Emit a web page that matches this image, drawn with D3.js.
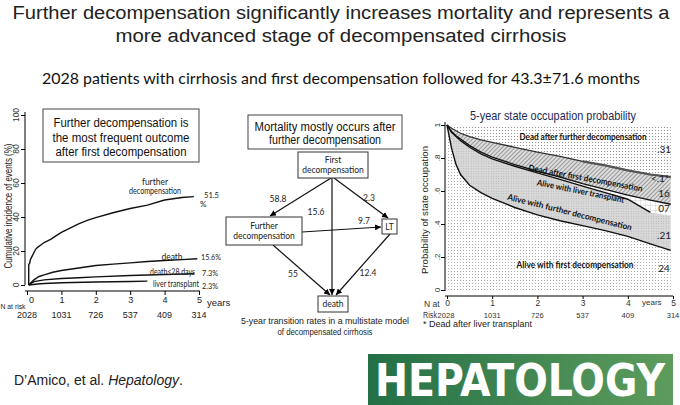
<!DOCTYPE html>
<html><head><meta charset="utf-8">
<script src="https://cdn.jsdelivr.net/npm/d3@7"></script>
<style>body{margin:0;background:#fff} svg{display:block}</style>
</head><body>
<svg id="c" width="680" height="405"></svg>
<script>
// ---------- DATA ----------
const titleLines = ["Further decompensation significantly increases mortality and represents a",
                    "more advanced stage of decompensated cirrhosis"];
const subtitle = "2028 patients with cirrhosis and first decompensation followed for 43.3\u00B171.6 months";
const years = [0,1,2,3,4,5];
const nAtRisk = ["2028","1031","726","537","409","314"];
const leftYTicks = [0,20,40,60,80,100];
const leftBox = ["Further decompensation is","the most frequent outcome","after first decompensation"];
// cumulative incidence curves (years, %)
const furtherT = [0.05,0.05,0.08,0.1,0.15,0.2,0.25,0.3,0.4,0.5,0.6,0.7,0.85,1.0,1.25,1.5,1.75,2.0,2.5,3.0,3.5,4.0,4.5,4.85];
const furtherV = [0,12,13,15,17,19,21,22,23.5,25,26,27,29,31,33.5,36,38,39.6,42.5,45,47,50,51.5,52];
const deathT = [0.05,0.2,0.35,0.5,0.75,1,1.5,2,2.5,3,3.5,4,4.5,4.95];
const deathV = [0,3,5,6,7.5,8.5,10,11.5,12.3,13,13.8,14.4,14.9,15.4];
const d28T = [0.05,0.2,0.5,1,1.5,2,3,4,4.85];
const d28V = [0,2,3,3.8,4.3,4.8,5.6,6.2,6.6];
const ltT = [0.05,0.3,0.5,1,2,3,3.5];
const ltV = [0,0.6,0.9,1.3,1.8,2.1,2.3];
const curveLabels = ["51.5","15.6%","7.3%","2.3%"];
// multistate diagram
const midTitle = ["Mortality mostly occurs after","further decompensation"];
const transitions = ["58.8","15.6","2.3","9.7","55","12.4"];
const midCaption = ["5-year transition rates in a multistate model","of decompensated cirrhosis"];
// state occupation probabilities
const rT   = [0,0.1,0.2,0.3,0.5,0.75,1,1.5,2,2.5,3,3.5,4,4.5,4.95];
const occA = [1,0.98,0.965,0.95,0.93,0.91,0.895,0.865,0.835,0.81,0.78,0.755,0.725,0.70,0.685];
const occB = [1,0.96,0.935,0.915,0.875,0.835,0.805,0.76,0.72,0.685,0.645,0.61,0.575,0.545,0.52];
const occC = [1,0.955,0.93,0.905,0.865,0.825,0.795,0.75,0.71,0.67,0.63,0.59,0.55,0.47,0.45];
const occD = [1,0.86,0.76,0.70,0.635,0.59,0.555,0.50,0.455,0.42,0.39,0.36,0.325,0.28,0.24];
const rightYTicks = [0,0.2,0.4,0.6,0.8,1];
const rightYLabels = ["0",".2",".4",".6",".8","1"];
const endLabels = [".31","<.1*","16","07",".21","24"];

// ---------- SETUP ----------
const svg = d3.select("#c");
const ARIAL = "Liberation Sans, Arial, sans-serif";
const CAL = "Lato, 'Open Sans', sans-serif";
const defs = svg.append("defs");
function dotPat(id, bg, fill, r, s){
  const p = defs.append("pattern").attr("id",id).attr("width",s).attr("height",s).attr("patternUnits","userSpaceOnUse");
  p.append("rect").attr("width",s).attr("height",s).attr("fill",bg);
  p.append("circle").attr("cx",s/2).attr("cy",s/2).attr("r",r).attr("fill",fill);
}
dotPat("dotsTop","#fff","#858585",0.62,3);
dotPat("dotsLow","#fff","#9a9a9a",0.55,3);
dotPat("dotsGrey","#d8d8d8","#a5a5a5",0.5,2.5);
{
  const p = defs.append("pattern").attr("id","hatch").attr("width",3).attr("height",3)
    .attr("patternUnits","userSpaceOnUse").attr("patternTransform","rotate(45)");
  p.append("rect").attr("width",3).attr("height",3).attr("fill","#dcdcdc");
  p.append("line").attr("x1",0).attr("y1",0).attr("x2",0).attr("y2",3).attr("stroke","#6e6e6e").attr("stroke-width",1.2);
  const g = defs.append("pattern").attr("id","grid").attr("width",5).attr("height",5).attr("patternUnits","userSpaceOnUse");
  g.append("rect").attr("width",5).attr("height",5).attr("fill","#fff");
  g.append("path").attr("d","M0,0H5M0,0V5").attr("stroke","#c4c4c4").attr("stroke-width",0.8);
  const gr = defs.append("linearGradient").attr("id","green");
  gr.append("stop").attr("offset","0").attr("stop-color","#237047");
  gr.append("stop").attr("offset","1").attr("stop-color","#5e9c5d");
  const m = defs.append("marker").attr("id","arr").attr("viewBox","0 0 10 10").attr("refX",10).attr("refY",5)
    .attr("markerWidth",5).attr("markerHeight",5).attr("orient","auto");
  m.append("path").attr("d","M0,0L10,5L0,10z").attr("fill","#000");
}

// ---------- TITLES ----------
svg.selectAll("text.title").data(titleLines).join("text").attr("class","title")
  .attr("x",341).attr("y",(d,i)=>19+i*23).attr("text-anchor","middle")
  .attr("font-family",ARIAL).attr("font-size",18).attr("fill","#222")
  .attr("textLength",(d,i)=>i?451:657).attr("lengthAdjust","spacingAndGlyphs").text(d=>d);
svg.append("text").attr("x",341).attr("y",84).attr("text-anchor","middle")
  .attr("font-family",CAL).attr("font-size",15).attr("fill","#111")
  .attr("textLength",598).attr("lengthAdjust","spacingAndGlyphs").text(subtitle);

// ---------- LEFT CHART ----------
const xL = d3.scaleLinear().domain([0,5]).range([27,199]);
const yL = d3.scaleLinear().domain([0,100]).range([285,115]);
const gL = svg.append("g");
gL.append("g").attr("transform","translate(25,0)")
  .call(d3.axisLeft(yL).tickValues(leftYTicks).tickSize(4).tickFormat(""))
  .call(g=>g.select(".domain").attr("d","M-0,285V112"));
gL.selectAll("text.ly").data(leftYTicks).join("text")
  .attr("transform",d=>`translate(19,${yL(d)}) rotate(-90)`).attr("text-anchor","middle")
  .attr("font-family",ARIAL).attr("font-size",8.5).attr("fill","#333").text(d=>d);
gL.append("g").attr("transform","translate(0,291)")
  .call(d3.axisBottom(xL).tickValues(years).tickSize(4).tickFormat(d=>d).tickPadding(2))
  .call(g=>{g.select(".domain").attr("d","M25,0H200");
            g.selectAll("text").attr("font-family",ARIAL).attr("font-size",9).attr("fill","#222")
              .attr("dx",(d,i)=>i?0:4);});
gL.append("text").attr("transform","translate(12,206) rotate(-90)").attr("text-anchor","middle")
  .attr("font-family",ARIAL).attr("font-size",11).attr("fill","#222")
  .attr("textLength",125).attr("lengthAdjust","spacingAndGlyphs").text("Cumulative incidence of events (%)");
gL.append("text").attr("x",0.5).attr("y",308.5).attr("font-family",ARIAL).attr("font-size",8).attr("fill","#222")
  .attr("textLength",25).attr("lengthAdjust","spacingAndGlyphs").text("N at risk");
gL.append("text").attr("x",207).attr("y",306).attr("font-family",ARIAL).attr("font-size",9.5).attr("fill","#222").text("years");
gL.selectAll("text.nr").data(nAtRisk).join("text").attr("x",(d,i)=>xL(years[i])).attr("y",318)
  .attr("text-anchor","middle").attr("font-family",ARIAL).attr("font-size",9).attr("fill","#222").text(d=>d);
gL.append("rect").attr("x",43).attr("y",109).attr("width",156).attr("height",53)
  .attr("fill","#fff").attr("stroke","#444").attr("stroke-width",1);
gL.selectAll("text.lb").data(leftBox).join("text").attr("x",121).attr("y",(d,i)=>127+i*14.5)
  .attr("text-anchor","middle").attr("font-family",ARIAL).attr("font-size",12.5).attr("fill","#111")
  .attr("textLength",(d,i)=>[135,137,131][i]).attr("lengthAdjust","spacingAndGlyphs").text(d=>d);
const lineL = d3.line().x(d=>xL(d[0])).y(d=>yL(d[1]));
[[furtherT,furtherV],[deathT,deathV],[d28T,d28V],[ltT,ltV]].forEach(([t,v])=>{
  gL.append("path").attr("d",lineL(t.map((x,i)=>[x,v[i]]))).attr("fill","none").attr("stroke","#111").attr("stroke-width",1.4);
});
const lbl = (x,y,t,s,a,w)=>{const e=gL.append("text").attr("x",x).attr("y",y).attr("text-anchor",a||"start")
  .attr("font-family",CAL).attr("font-size",s||8.5).attr("fill","#222").text(t);
  if(w) e.attr("textLength",w).attr("lengthAdjust","spacingAndGlyphs"); return e;};
lbl(155,185,"further",8.5,"middle");
lbl(155,194,"decompensation",8.5,"middle",52);
lbl(204,198,curveLabels[0],8,"start",15); lbl(200,207,"%",8);
lbl(172,260,"death",8.5,"middle"); lbl(201,260,curveLabels[1],8,"start",20);
lbl(150,274.5,"death\u226428 days",8.5,"start",45); lbl(202,275.5,curveLabels[2],7.5,"start",16);
lbl(153,287,"liver transplant",8.5,"start",46); lbl(202,289,curveLabels[3],7.5,"start",16);

// ---------- MIDDLE DIAGRAM ----------
const gM = svg.append("g");
gM.append("rect").attr("x",248).attr("y",115).attr("width",154).attr("height",34).attr("fill","#fff").attr("stroke","#444");
gM.selectAll("text.mt").data(midTitle).join("text").attr("x",325).attr("y",(d,i)=>131+i*13)
  .attr("text-anchor","middle").attr("font-family",ARIAL).attr("font-size",12).attr("fill","#111")
  .attr("textLength",(d,i)=>i?112:141).attr("lengthAdjust","spacingAndGlyphs").text(d=>d);
const nodes = [
  {k:"first", x:298,y:152,w:70,h:26, t:["First","decompensation"]},
  {k:"further", x:226,y:217,w:76,h:28, t:["Further","decompensation"]},
  {k:"lt", x:382,y:219,w:15,h:15, t:["LT"]},
  {k:"death", x:318,y:296,w:30,h:16, t:["death"]}
];
const edges = [
  {p:[331,178,270,216], l:[278,202]},
  {p:[332,178,332,295], l:[316,215]},
  {p:[334,178,388,218], l:[369,201]},
  {p:[302,232,381,227], l:[364,224]},
  {p:[273,245,330,295], l:[293,277]},
  {p:[390,234,336,295], l:[368,276]}
];
edges.forEach((e,i)=>{
  gM.append("line").attr("x1",e.p[0]).attr("y1",e.p[1]).attr("x2",e.p[2]).attr("y2",e.p[3])
    .attr("stroke","#111").attr("stroke-width",1.2).attr("marker-end","url(#arr)");
  gM.append("text").attr("x",e.l[0]).attr("y",e.l[1]).attr("text-anchor","middle")
    .attr("font-family",CAL).attr("font-size",8.5).attr("fill","#222").text(transitions[i]);
});
nodes.forEach(n=>{
  gM.append("rect").attr("x",n.x).attr("y",n.y).attr("width",n.w).attr("height",n.h).attr("fill","#fff").attr("stroke","#333").attr("stroke-width",1);
  n.t.forEach((s,j)=>gM.append("text").attr("x",n.x+n.w/2).attr("y",n.y+n.h/2+3+(n.t.length>1?(j-0.5)*10:0))
    .attr("text-anchor","middle").attr("font-family",CAL).attr("font-size",8.5).attr("fill","#222").text(s));
});
gM.selectAll("text.cap").data(midCaption).join("text").attr("x",325).attr("y",(d,i)=>324+i*11)
  .attr("text-anchor","middle").attr("font-family",ARIAL).attr("font-size",9).attr("fill","#222")
  .attr("textLength",(d,i)=>i?95:168).attr("lengthAdjust","spacingAndGlyphs").text(d=>d);

// ---------- RIGHT CHART ----------
const xR = d3.scaleLinear().domain([0,5]).range([447,673]);
const yR = d3.scaleLinear().domain([0,1]).range([290,125]);
const gR = svg.append("g");
const rows = rT.map((t,i)=>({t,a:occA[i],b:occB[i],c:occC[i],d:occD[i]}));
const area = (lo,hi)=>d3.area().x(r=>xR(r.t)).y0(r=>yR(lo(r))).y1(r=>yR(hi(r)));
gR.append("path").attr("d",area(r=>r.a,r=>1)(rows)).attr("fill","url(#dotsTop)");
gR.append("path").attr("d",area(r=>r.b,r=>r.a)(rows)).attr("fill","url(#hatch)");
gR.append("path").attr("d",area(r=>r.c,r=>r.b)(rows)).attr("fill","url(#grid)");
gR.append("path").attr("d",area(r=>r.d,r=>r.c)(rows)).attr("fill","url(#dotsGrey)");
gR.append("path").attr("d",area(r=>0,r=>r.d)(rows)).attr("fill","url(#dotsLow)");
const lr = k=>d3.line().x(r=>xR(r.t)).y(r=>yR(r[k]));
gR.append("path").attr("d",lr("a")(rows)).attr("fill","none").attr("stroke","#333").attr("stroke-width",1.3);
gR.append("path").attr("d",lr("a")(rows.filter(r=>r.t>=3))).attr("fill","none").attr("stroke","#555").attr("stroke-width",2.2);
gR.append("path").attr("d",lr("b")(rows)).attr("fill","none").attr("stroke","#111").attr("stroke-width",1.4);
gR.append("path").attr("d",lr("c")(rows.filter(r=>r.t<=4.6))).attr("fill","none").attr("stroke","#111").attr("stroke-width",1.4);
gR.append("path").attr("d",lr("d")(rows)).attr("fill","none").attr("stroke","#111").attr("stroke-width",1.4);
gR.append("g").attr("transform","translate(445,0)")
  .call(d3.axisLeft(yR).tickValues(rightYTicks).tickSize(4).tickFormat(""))
  .call(g=>g.select(".domain").attr("d","M0,291V122"));
gR.selectAll("text.ry").data(rightYTicks).join("text")
  .attr("transform",d=>`translate(440,${yR(d)}) rotate(-90)`).attr("text-anchor","middle")
  .attr("font-family",ARIAL).attr("font-size",8).attr("fill","#333").text((d,i)=>rightYLabels[i]);
gR.append("text").attr("transform","translate(428,210) rotate(-90)").attr("text-anchor","middle")
  .attr("font-family",ARIAL).attr("font-size",9.5).attr("fill","#222")
  .attr("textLength",128).attr("lengthAdjust","spacingAndGlyphs").text("Probability of state occupation");
gR.append("g").attr("transform","translate(0,296)")
  .call(d3.axisBottom(xR).tickValues(years).tickSize(3).tickFormat(d=>d).tickPadding(1))
  .call(g=>{g.select(".domain").attr("d","M445,0H673");
            g.selectAll("text").attr("font-family",ARIAL).attr("font-size",8.5).attr("fill","#333");});
gR.append("text").attr("x",424).attr("y",307).attr("font-family",ARIAL).attr("font-size",8.5).attr("fill","#333").text("N at");
gR.append("text").attr("x",423).attr("y",318).attr("font-family",ARIAL).attr("font-size",8.5).attr("fill","#333")
  .attr("textLength",14).attr("lengthAdjust","spacingAndGlyphs").text("Risk");
gR.append("text").attr("x",642).attr("y",305).attr("font-family",ARIAL).attr("font-size",8).attr("fill","#333").text("years");
gR.selectAll("text.rn").data(nAtRisk).join("text").attr("x",(d,i)=>i?xR(years[i]):446).attr("y",318)
  .attr("text-anchor","middle").attr("font-family",ARIAL).attr("font-size",8).attr("fill","#333")
  .attr("textLength",d=>d.length*4.2).attr("lengthAdjust","spacingAndGlyphs").text(d=>d);
gR.append("text").attr("x",423).attr("y",327).attr("font-family",ARIAL).attr("font-size",9).attr("fill","#222").text("* Dead after liver transplant");
gR.append("text").attr("x",553).attr("y",120).attr("text-anchor","middle").attr("font-family",ARIAL)
  .attr("font-size",13).attr("fill","#1d2a58").attr("textLength",166).attr("lengthAdjust","spacingAndGlyphs")
  .text("5-year state occupation probability");
const stateLbl = [
  {t:"Dead after further decompensation", x:583,y:140,r:0,w:127},
  {t:"Dead after first decompensation", x:585,y:181,r:10.5,w:116},
  {t:"Alive with liver transplant", x:580,y:194,r:11.5,w:89},
  {t:"Alive with further decompensation", x:569,y:215,r:14,w:128},
  {t:"Alive with first decompensation", x:575,y:268,r:0,w:117}
];
stateLbl.forEach(s=>gR.append("text").attr("transform",`translate(${s.x},${s.y}) rotate(${s.r})`)
  .attr("text-anchor","middle").attr("font-family",CAL).attr("font-weight","bold").attr("font-size",8.5)
  .attr("fill","#111").attr("textLength",s.w).attr("lengthAdjust","spacingAndGlyphs").text(s.t));
const endY = [153,182,197,212,239,272];
gR.selectAll("text.el").data(endLabels).join("text").attr("x",(d,i)=>i==1?660:664).attr("y",(d,i)=>endY[i])
  .attr("text-anchor","middle").attr("font-family",CAL).attr("font-size",10).attr("fill","#222").text(d=>d);

// ---------- FOOTER ----------
const ft = svg.append("text").attr("x",14).attr("y",385).attr("font-family",ARIAL).attr("font-size",14).attr("fill","#222");
ft.append("tspan").text("D\u2019Amico, et al. ");
ft.append("tspan").attr("font-style","italic").text("Hepatology");
ft.append("tspan").text(".");
svg.append("rect").attr("x",368).attr("y",354).attr("width",305).attr("height",51).attr("fill","url(#green)");
svg.append("text").attr("x",375).attr("y",396).attr("font-family","'DejaVu Sans Condensed', 'Liberation Sans Narrow', sans-serif")
  .attr("font-weight","bold").attr("font-size",44).attr("fill","#fff")
  .attr("textLength",290).attr("lengthAdjust","spacingAndGlyphs").text("HEPATOLOGY");
</script>
</body></html>
